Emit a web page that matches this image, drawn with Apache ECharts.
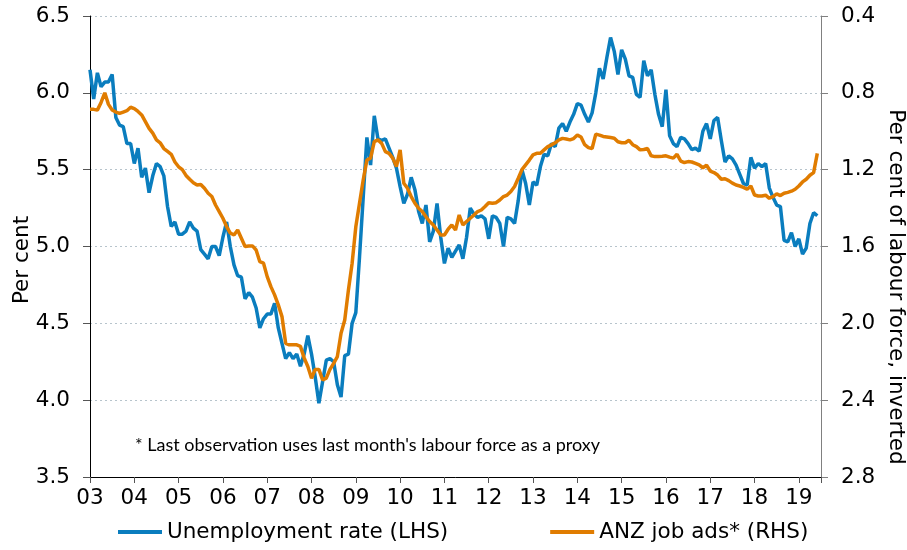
<!DOCTYPE html>
<html>
<head>
<meta charset="utf-8">
<script src="https://cdn.jsdelivr.net/npm/echarts@6/dist/echarts.min.js"></script>
<style>
html,body{margin:0;padding:0;background:#fff;}
#chart{width:907px;height:550px;}
</style>
</head>
<body>
<div id="chart"></div>
<script>
// Monthly data starting January 2003
const startYear = 2003;
const xTickYears = ['03','04','05','06','07','08','09','10','11','12','13','14','15','16','17','18','19'];
const leftTicks = [3.5, 4.0, 4.5, 5.0, 5.5, 6.0, 6.5];
const rightTicks = [0.4, 0.8, 1.2, 1.6, 2.0, 2.4, 2.8];
const seriesNames = ['Unemployment rate (LHS)', 'ANZ job ads* (RHS)'];

// Unemployment rate, per cent (LHS)
const unemployment = [
  6.15,5.96,6.13,6.04,6.07,6.07,6.12,5.84,5.79,5.78,5.67,5.67,
  5.54,5.64,5.45,5.51,5.35,5.46,5.54,5.52,5.46,5.26,5.13,5.16,
  5.08,5.08,5.10,5.16,5.12,5.10,4.98,4.95,4.92,5.00,5.00,4.94,
  5.06,5.16,5.00,4.88,4.81,4.80,4.66,4.70,4.67,4.60,4.47,4.53,
  4.56,4.56,4.63,4.47,4.37,4.27,4.31,4.27,4.30,4.22,4.30,4.42,
  4.30,4.15,3.98,4.12,4.26,4.27,4.25,4.10,4.02,4.29,4.30,4.50,
  4.57,4.93,5.32,5.71,5.53,5.85,5.70,5.69,5.70,5.64,5.58,5.51,
  5.39,5.28,5.34,5.45,5.37,5.23,5.15,5.27,5.03,5.10,5.28,5.06,
  4.89,4.99,4.93,4.97,5.01,4.92,5.06,5.25,5.21,5.19,5.20,5.18,
  5.05,5.20,5.19,5.15,5.00,5.19,5.18,5.15,5.30,5.50,5.41,5.27,
  5.42,5.40,5.52,5.60,5.59,5.67,5.65,5.77,5.80,5.75,5.81,5.86,
  5.93,5.92,5.86,5.81,5.87,6.00,6.16,6.09,6.23,6.36,6.27,6.12,
  6.28,6.22,6.11,6.10,5.99,5.97,6.21,6.11,6.15,5.99,5.86,5.78,
  6.02,5.72,5.67,5.65,5.71,5.70,5.67,5.63,5.64,5.62,5.75,5.80,
  5.70,5.82,5.84,5.69,5.55,5.59,5.57,5.53,5.47,5.41,5.40,5.58,
  5.51,5.54,5.52,5.54,5.38,5.32,5.27,5.26,5.04,5.03,5.09,5.00,
  5.05,4.95,4.99,5.15,5.22,5.20
];

// ANZ job ads, per cent of labour force (RHS, inverted)
const jobAds = [
  0.886,0.886,0.890,0.850,0.800,0.860,0.889,0.900,0.907,0.900,0.893,0.875,
  0.882,0.897,0.915,0.950,0.985,1.010,1.045,1.060,1.090,1.105,1.120,1.160,
  1.185,1.200,1.230,1.250,1.268,1.280,1.277,1.297,1.323,1.340,1.384,1.418,
  1.453,1.496,1.530,1.540,1.514,1.557,1.600,1.597,1.597,1.618,1.679,1.687,
  1.757,1.809,1.852,1.904,1.965,2.104,2.112,2.112,2.112,2.120,2.180,2.225,
  2.286,2.240,2.240,2.295,2.285,2.240,2.208,2.173,2.052,1.983,1.826,1.687,
  1.497,1.375,1.254,1.150,1.140,1.054,1.045,1.063,1.106,1.115,1.140,1.184,
  1.097,1.271,1.297,1.340,1.375,1.401,1.418,1.445,1.470,1.488,1.514,1.540,
  1.540,1.510,1.488,1.514,1.436,1.488,1.470,1.453,1.436,1.418,1.410,1.392,
  1.372,1.375,1.372,1.358,1.340,1.332,1.314,1.288,1.245,1.200,1.175,1.150,
  1.123,1.115,1.115,1.097,1.080,1.071,1.060,1.045,1.037,1.040,1.045,1.038,
  1.020,1.030,1.070,1.085,1.090,1.015,1.020,1.027,1.030,1.033,1.036,1.055,
  1.060,1.060,1.047,1.070,1.080,1.097,1.095,1.090,1.128,1.132,1.132,1.130,
  1.128,1.135,1.140,1.120,1.155,1.163,1.158,1.160,1.167,1.175,1.190,1.177,
  1.207,1.215,1.228,1.250,1.247,1.257,1.270,1.280,1.285,1.292,1.302,1.285,
  1.332,1.337,1.337,1.333,1.349,1.340,1.326,1.335,1.323,1.318,1.312,1.302,
  1.285,1.264,1.250,1.229,1.215,1.115
];

const noteText = "* Last observation uses last month's labour force as a proxy";
const leftName = 'Per cent';
const rightName = 'Per cent of labour force, inverted';

const toPairs = arr => arr.map((v, i) => [startYear + i / 12, v]);

const FONT = 'DejaVu Sans';
const FS = 21.5;
const BLUE = '#0A7DBE';
const ORANGE = '#E07C00';

const chart = echarts.init(document.getElementById('chart'), null, {renderer: 'canvas'});
chart.setOption({
  animation: false,
  backgroundColor: '#fff',
  grid: {left: 90, right: 86, top: 16, bottom: 73, containLabel: false},
  xAxis: {
    type: 'value',
    min: 2003, max: 2019.5, interval: 1,
    axisLine: {show: true, onZero: false, lineStyle: {color: '#000', width: 1}},
    axisTick: {show: true, length: 6, lineStyle: {color: '#555'}},
    axisLabel: {
      margin: 10, color: '#000', fontFamily: FONT, fontSize: FS,
      formatter: v => {
        const idx = Math.round(v) - startYear;
        return (Math.abs(v - Math.round(v)) < 1e-6 && xTickYears[idx]) ? xTickYears[idx] : '';
      }
    },
    splitLine: {show: false}
  },
  yAxis: [
    {
      type: 'value', position: 'left',
      min: leftTicks[0], max: leftTicks[leftTicks.length - 1], interval: 0.5,
      axisLine: {show: true, lineStyle: {color: '#000', width: 1}},
      axisTick: {show: true, length: 7, lineStyle: {color: '#555'}},
      axisLabel: {margin: 20, color: '#000', fontFamily: FONT, fontSize: FS, formatter: v => v.toFixed(1)},
      splitLine: {show: true, lineStyle: {color: '#b7c4cc', type: [2, 3], width: 1}}
    },
    {
      type: 'value', position: 'right', inverse: true,
      min: rightTicks[0], max: rightTicks[rightTicks.length - 1], interval: 0.4,
      axisLine: {show: true, lineStyle: {color: '#808080', width: 1}},
      axisTick: {show: true, length: 7, lineStyle: {color: '#808080'}},
      axisLabel: {margin: 20, color: '#000', fontFamily: FONT, fontSize: FS, formatter: v => v.toFixed(1)},
      splitLine: {show: false}
    }
  ],
  legend: {
    left: 113, top: 516,
    icon: 'rect', itemWidth: 44, itemHeight: 4, itemGap: 102,
    textStyle: {color: '#000', fontFamily: FONT, fontSize: FS},
    data: seriesNames
  },
  graphic: [
    {type: 'text', left: 135, top: 436, style: {text: noteText, fontFamily: 'Lato', fontSize: 18, fill: '#000'}},
    {type: 'text', x: 22, y: 260, rotation: Math.PI / 2, style: {text: leftName, fontFamily: FONT, fontSize: FS, fill: '#000', align: 'center', verticalAlign: 'middle'}},
    {type: 'text', x: 896, y: 287, rotation: -Math.PI / 2, style: {text: rightName, fontFamily: FONT, fontSize: FS, fill: '#000', align: 'center', verticalAlign: 'middle'}}
  ],
  series: [
    {
      name: seriesNames[0], type: 'line', yAxisIndex: 0, data: toPairs(unemployment),
      showSymbol: false, symbol: 'none', lineStyle: {color: BLUE, width: 3.5}, itemStyle: {color: BLUE}, z: 2
    },
    {
      name: seriesNames[1], type: 'line', yAxisIndex: 1, data: toPairs(jobAds),
      showSymbol: false, symbol: 'none', lineStyle: {color: ORANGE, width: 3.5}, itemStyle: {color: ORANGE}, z: 3
    }
  ]
});
</script>
</body>
</html>
